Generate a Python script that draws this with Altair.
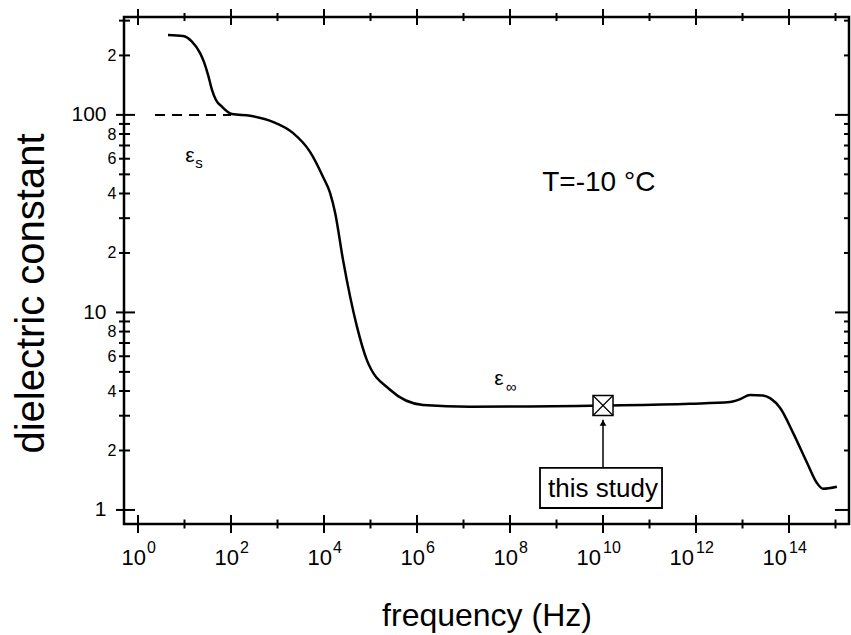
import altair as alt
import pandas as pd

W, H = 725, 507
FONT = "Liberation Sans"

# ---- data ----
curve_logf = [0.645, 0.968, 1.16, 1.333, 1.42, 1.505, 1.591, 1.677, 1.806, 2.02, 2.41, 2.90,
              3.33, 3.70, 3.98, 4.13, 4.24, 4.41, 4.71, 4.92, 5.42, 6.13,
              7.14, 10.0, 11.87, 12.73, 12.95, 13.16, 13.44, 13.6, 13.81, 14.09,
              14.39, 14.60, 14.73, 15.03]
curve_eps = [254, 251, 235, 206, 185, 160, 134, 119, 110, 101, 98.9, 92.2,
             81.1, 65, 48.5, 40.3, 31.9, 18.4, 8.45, 5.75, 4.06, 3.40,
             3.33, 3.38, 3.45, 3.52, 3.64, 3.82, 3.80, 3.67, 3.28, 2.45,
             1.73, 1.37, 1.28, 1.31]

x_domain_exp = [-0.301, 15.29]
y_domain = [0.849, 313]

major_x_exp = [0, 2, 4, 6, 8, 10, 12, 14]
minor_x_exp = [1, 3, 5, 7, 9, 11, 13, 15]
y_tick_vals = [1, 2, 3, 4, 5, 6, 7, 8, 9, 10, 20, 30, 40, 50, 60, 70, 80, 90, 100, 200, 300]
y_major_vals = [1, 10, 100]
y_label_vals = [1, 2, 4, 6, 8, 10, 20, 40, 60, 80, 100, 200]
y_label_text = ["1", "2", "4", "6", "8", "10", "2", "4", "6", "8", "100", "2"]

dash_exp = [0.366, 2.0]
dash_val = 100
eps_s_pos = (1.118, 62.0)
eps_inf_pos = (7.763, 4.60)
temp_pos = (9.91, 45.3)
temp_text = "T=-10 °C"
study_pos = (10.0, 3.38)
arrow_vals = [1.63, 2.86]
arrowhead_val = 2.76
box_exp = [8.645, 11.269]
box_vals = [1.023, 1.633]
study_label_val = 1.276
study_text = "this study"

# ---- tables / scales / axes ----
curve = pd.DataFrame({"f": [10 ** e for e in curve_logf], "v": curve_eps})
xs = alt.Scale(type="log", domain=[10 ** x_domain_exp[0], 10 ** x_domain_exp[1]], nice=False)
ys = alt.Scale(type="log", domain=y_domain, nice=False)

label_expr = "".join(f"datum.value == {v} ? '{t}' : " for v, t in zip(y_label_vals, y_label_text)) + "''"
major_test = " || ".join(f"datum.value == {v}" for v in y_major_vals)

x_axis = alt.Axis(
    title="frequency (Hz)", labels=False, ticks=False, domain=False, grid=False,
    titleFontSize=32, titleFontWeight="normal", titleX=W / 2, titleY=101,
    titleBaseline="alphabetic", titleFont=FONT, titleColor="black")
y_axis = alt.Axis(
    title="dielectric constant", values=y_label_vals, labelExpr=label_expr,
    ticks=False, tickSize=0, domain=False, grid=False,
    labelFont=FONT, labelColor="black",
    labelFontSize={"condition": {"test": major_test, "value": 21}, "value": 16},
    labelPadding={"condition": {"test": major_test, "value": 18}, "value": 8},
    titleFontSize=40, titleFontWeight="normal", titleFont=FONT, titleColor="black",
    titleAngle=270, titleX=-81, titleY=276, titleBaseline="alphabetic")

X = lambda: alt.X("f:Q", scale=xs, axis=x_axis)
Yv = lambda: alt.Y("v:Q", scale=ys, axis=y_axis)

def xdf(exps):
    return pd.DataFrame({"f": [10 ** e for e in exps], "exp": [str(e) for e in exps]})

def ydf(vals):
    return pd.DataFrame({"v": vals})

minor_y = [v for v in y_tick_vals if v not in y_major_vals]

layers = [alt.Chart(curve).mark_line(color="black", strokeWidth=2.5, interpolate="monotone").encode(
    x=X(), y=Yv())]

# bottom / top x ticks (crossing the frame)
layers.append(alt.Chart(xdf(major_x_exp)).mark_rule(color="black", strokeWidth=2).encode(
    x=X(), y=alt.value(H - 9), y2=alt.value(H + 9)))
layers.append(alt.Chart(xdf(minor_x_exp)).mark_rule(color="black", strokeWidth=2).encode(
    x=X(), y=alt.value(H - 4.5), y2=alt.value(H + 4.5)))
layers.append(alt.Chart(xdf(major_x_exp)).mark_rule(color="black", strokeWidth=2).encode(
    x=X(), y=alt.value(-8), y2=alt.value(8)))
layers.append(alt.Chart(xdf(minor_x_exp)).mark_rule(color="black", strokeWidth=2).encode(
    x=X(), y=alt.value(-4), y2=alt.value(4)))
# left / right y ticks
layers.append(alt.Chart(ydf(y_major_vals)).mark_rule(color="black", strokeWidth=2).encode(
    y=Yv(), x=alt.value(-8), x2=alt.value(11)))
layers.append(alt.Chart(ydf(minor_y)).mark_rule(color="black", strokeWidth=2).encode(
    y=Yv(), x=alt.value(-5), x2=alt.value(6)))
layers.append(alt.Chart(ydf(y_major_vals)).mark_rule(color="black", strokeWidth=2).encode(
    y=Yv(), x=alt.value(W - 14), x2=alt.value(W)))
layers.append(alt.Chart(ydf(minor_y)).mark_rule(color="black", strokeWidth=2).encode(
    y=Yv(), x=alt.value(W - 5), x2=alt.value(W)))

# x tick labels 10^n
single = [e for e in major_x_exp if e < 10]
double = [e for e in major_x_exp if e >= 10]
for exps, bdx, edx in [(single, 8, 9), (double, -2, 0)]:
    layers.append(alt.Chart(xdf(exps)).mark_text(
        align="right", baseline="alphabetic", fontSize=22, font=FONT, color="black", dx=bdx).encode(
        x=X(), y=alt.value(548), text=alt.value("10")))
    layers.append(alt.Chart(xdf(exps)).mark_text(
        align="left", baseline="alphabetic", fontSize=16, font=FONT, color="black", dx=edx).encode(
        x=X(), y=alt.value(536), text="exp:N"))

# dashed eps_s level
dash = pd.DataFrame({"f": [10 ** dash_exp[0]], "f2": [10 ** dash_exp[1]], "v": [dash_val]})
layers.append(alt.Chart(dash).mark_rule(color="black", strokeWidth=2, strokeDash=[10, 7]).encode(
    x=X(), x2="f2:Q", y=Yv()))

# epsilon labels
def eps_label(pos, sub, sdx, sdy):
    d = pd.DataFrame({"f": [10 ** pos[0]], "v": [pos[1]]})
    a = alt.Chart(d).mark_text(fontSize=21, font=FONT, color="black", baseline="middle").encode(
        x=X(), y=Yv(), text=alt.value("ε"))
    b = alt.Chart(d).mark_text(fontSize=15, font=FONT, color="black", baseline="middle",
                               dx=sdx, dy=sdy).encode(x=X(), y=Yv(), text=alt.value(sub))
    return [a, b]

layers += eps_label(eps_s_pos, "s", 9, 7)
layers += eps_label(eps_inf_pos, "∞", 12, 8)

# temperature
tdf = pd.DataFrame({"f": [10 ** temp_pos[0]], "v": [temp_pos[1]], "t": [temp_text]})
layers.append(alt.Chart(tdf).mark_text(fontSize=28, font=FONT, color="black", baseline="middle").encode(
    x=X(), y=Yv(), text="t:N"))

# arrow and "this study" box
adf = pd.DataFrame({"f": [10 ** study_pos[0]], "v": [arrow_vals[0]], "v2": [arrow_vals[1]]})
layers.append(alt.Chart(adf).mark_rule(color="black", strokeWidth=1.5).encode(
    x=X(), y=Yv(), y2="v2:Q"))
hdf = pd.DataFrame({"f": [10 ** study_pos[0]], "v": [arrowhead_val]})
layers.append(alt.Chart(hdf).mark_point(shape="triangle-up", filled=True, color="black", size=45, opacity=1).encode(
    x=X(), y=Yv()))
bdf = pd.DataFrame({"f": [10 ** box_exp[0]], "f2": [10 ** box_exp[1]],
                    "v": [box_vals[0]], "v2": [box_vals[1]]})
layers.append(alt.Chart(bdf).mark_rect(fill="white", stroke="black", strokeWidth=1.8).encode(
    x=X(), x2="f2:Q", y=Yv(), y2="v2:Q"))
sdf = pd.DataFrame({"f": [10 ** study_pos[0]], "v": [study_label_val], "t": [study_text]})
layers.append(alt.Chart(sdf).mark_text(fontSize=26, font=FONT, color="black", baseline="middle").encode(
    x=X(), y=Yv(), text="t:N"))

mdf = pd.DataFrame({"f": [10 ** study_pos[0]], "v": [study_pos[1]]})
layers.append(alt.Chart(mdf).mark_point(shape="square", filled=True, fill="white", stroke="black",
                                        strokeWidth=1.5, size=400, opacity=1).encode(x=X(), y=Yv()))
layers.append(alt.Chart(mdf).mark_point(shape="M-1,-1L1,1M-1,1L1,-1", filled=False, stroke="black",
                                        strokeWidth=1.2, size=400, opacity=1).encode(x=X(), y=Yv()))

chart = alt.layer(*layers).properties(
    width=W, height=H,
    autosize=alt.AutoSizeParams(type="none"),
    padding={"left": 124, "top": 17, "right": 2, "bottom": 111},
    background="white",
).configure_view(stroke="black", strokeWidth=2.5)

chart.save("out.html", embed_options={"renderer": "svg", "actions": False})
